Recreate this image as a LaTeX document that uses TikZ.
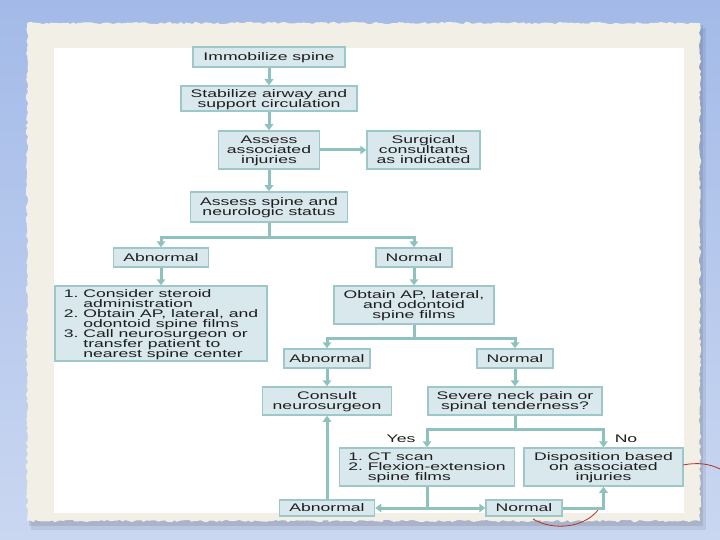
\documentclass[tikz,border=0pt]{standalone}
\usepackage{fontspec}
\newfontfamily\wfont[FakeStretch=1.6]{Liberation Sans}
\usetikzlibrary{arrows.meta,decorations.pathmorphing}
\definecolor{bgA}{HTML}{A3BAE8}
\definecolor{bgB}{HTML}{CAD7F1}
\definecolor{paper}{HTML}{F2EFE7}
\definecolor{boxfill}{HTML}{D9E8EC}
\definecolor{boxline}{HTML}{9DC8C7}
\definecolor{arrowc}{HTML}{8FC2BE}
\definecolor{txt}{HTML}{1E1E1E}
\definecolor{thread}{HTML}{B3302A}
\newcommand\boxfont{\wfont\fontsize{11}{9.9}\selectfont\lineskiplimit=-20pt\relax}
\begin{document}
\begin{tikzpicture}[x=1pt,y=-1pt,
  box/.style={draw=boxline, line width=1.5pt, fill=boxfill, inner sep=0pt,
    text=txt, align=center, font=\boxfont, text depth=0.3pt},
  lbox/.style={box, align=left},
  lab/.style={text=txt, inner sep=0pt, font=\boxfont},
  line/.style={draw=arrowc, line width=3pt},
  flow/.style={line, -{Triangle[width=8.5pt,length=6pt]}}]
\useasboundingbox (0,0) rectangle (720,540);
% background
\shade[top color=bgA, bottom color=bgB] (0,0) rectangle (720,540);
% paper shadow
\fill[black, opacity=0.07] (31,28) rectangle (706,530);
\fill[black, opacity=0.09] (29,25) rectangle (703,526);
\pgfmathsetseed{7}
\fill[paper, decorate, decoration={random steps, segment length=3pt, amplitude=1.2pt}]
  (27,23) rectangle (700,521);
% white panel
\fill[white] (54,48) rectangle (684,513);

% nodes
\node[box, minimum width=152pt, minimum height=20pt] (imm) at (269,57) {Immobilize spine};
\node[box, minimum width=176pt, minimum height=25pt] (stab) at (269,98.5) {Stabilize airway and\\support circulation};
\node[box, minimum width=101pt, minimum height=38pt] (assoc) at (269,150) {Assess\\associated\\injuries};
\node[box, minimum width=113pt, minimum height=38pt] (surg) at (423.5,150) {Surgical\\consultants\\as indicated};
\node[box, minimum width=157pt, minimum height=30pt] (spine) at (269,207) {Assess spine and\\neurologic status};
\node[box, minimum width=95pt, minimum height=19pt] (ab1) at (161,257.5) {Abnormal};
\node[box, minimum width=76pt, minimum height=19pt] (no1) at (414,257.5) {Normal};
\node[lbox, minimum width=212pt, minimum height=75pt] (list) at (161,323.5)
  {1.\ Consider steroid\\\hphantom{1.\ }administration\\2.\ Obtain AP, lateral, and\\\hphantom{2.\ }odontoid spine films\\3.\ Call neurosurgeon or\\\hphantom{3.\ }transfer patient to\\\hphantom{3.\ }nearest spine center};
\node[box, minimum width=160pt, minimum height=38pt] (obt) at (414,305) {Obtain AP, lateral,\\and odontoid\\spine films};
\node[box, minimum width=86pt, minimum height=19pt] (ab2) at (327,358.5) {Abnormal};
\node[box, minimum width=76pt, minimum height=19pt] (no2) at (515,358.5) {Normal};
\node[box, minimum width=129pt, minimum height=28pt] (cons) at (327,401) {Consult\\neurosurgeon};
\node[box, minimum width=174pt, minimum height=28pt] (sev) at (515,401) {Severe neck pain or\\spinal tenderness?};
\node[lbox, minimum width=175pt, minimum height=38pt] (ct) at (427,467)
  {1.\ CT scan\\2.\ Flexion-extension\\\hphantom{2.\ }spine films};
\node[box, minimum width=159pt, minimum height=38pt] (disp) at (603.5,467) {Disposition based\\on associated\\injuries};
\node[box, minimum width=95pt, minimum height=16pt] (ab3) at (327,508) {Abnormal};
\node[box, minimum width=76pt, minimum height=16pt] (no3) at (524,508) {Normal};
\node[lab] (yes) at (401,439) {Yes};
\node[lab] (no) at (626,439) {No};

% threads
\draw[thread, line width=0.8pt] (683,465) .. controls (698,462) and (710,464) .. (720,469);
\draw[thread, line width=0.8pt] (533,519) .. controls (553,531) and (584,528) .. (598,510);

% connectors
\draw[flow] (imm) -- (stab);
\draw[flow] (stab) -- (assoc);
\draw[flow] (assoc) -- (surg);
\draw[flow] (assoc) -- (spine);
\coordinate (j1) at (269,237);
\draw[line] (spine.south) -- (j1);
\draw[flow] (j1) -| (ab1.north);
\draw[flow] (j1) -| (no1.north);
\draw[flow] (ab1) -- (list);
\draw[flow] (no1) -- (obt);
\coordinate (j2) at (414,338);
\draw[line] (obt.south) -- (j2);
\draw[flow] (j2) -| (ab2.north);
\draw[flow] (j2) -| (no2.north);
\draw[flow] (ab2) -- (cons);
\draw[flow] (no2) -- (sev);
\coordinate (j3) at (515,429);
\draw[line] (sev.south) -- (j3);
\draw[flow] (j3) -| (ct.north);
\draw[flow] (j3) -| (disp.north);
\coordinate (j4) at (427,508);
\draw[line] (ct.south) -- (j4);
\draw[flow] (j4) -- (ab3.east);
\draw[flow] (j4) -- (no3.west);
\draw[flow] (ab3.north) -- (cons.south);
\draw[flow] (no3.east) -| (disp.south);
\end{tikzpicture}
\end{document}
